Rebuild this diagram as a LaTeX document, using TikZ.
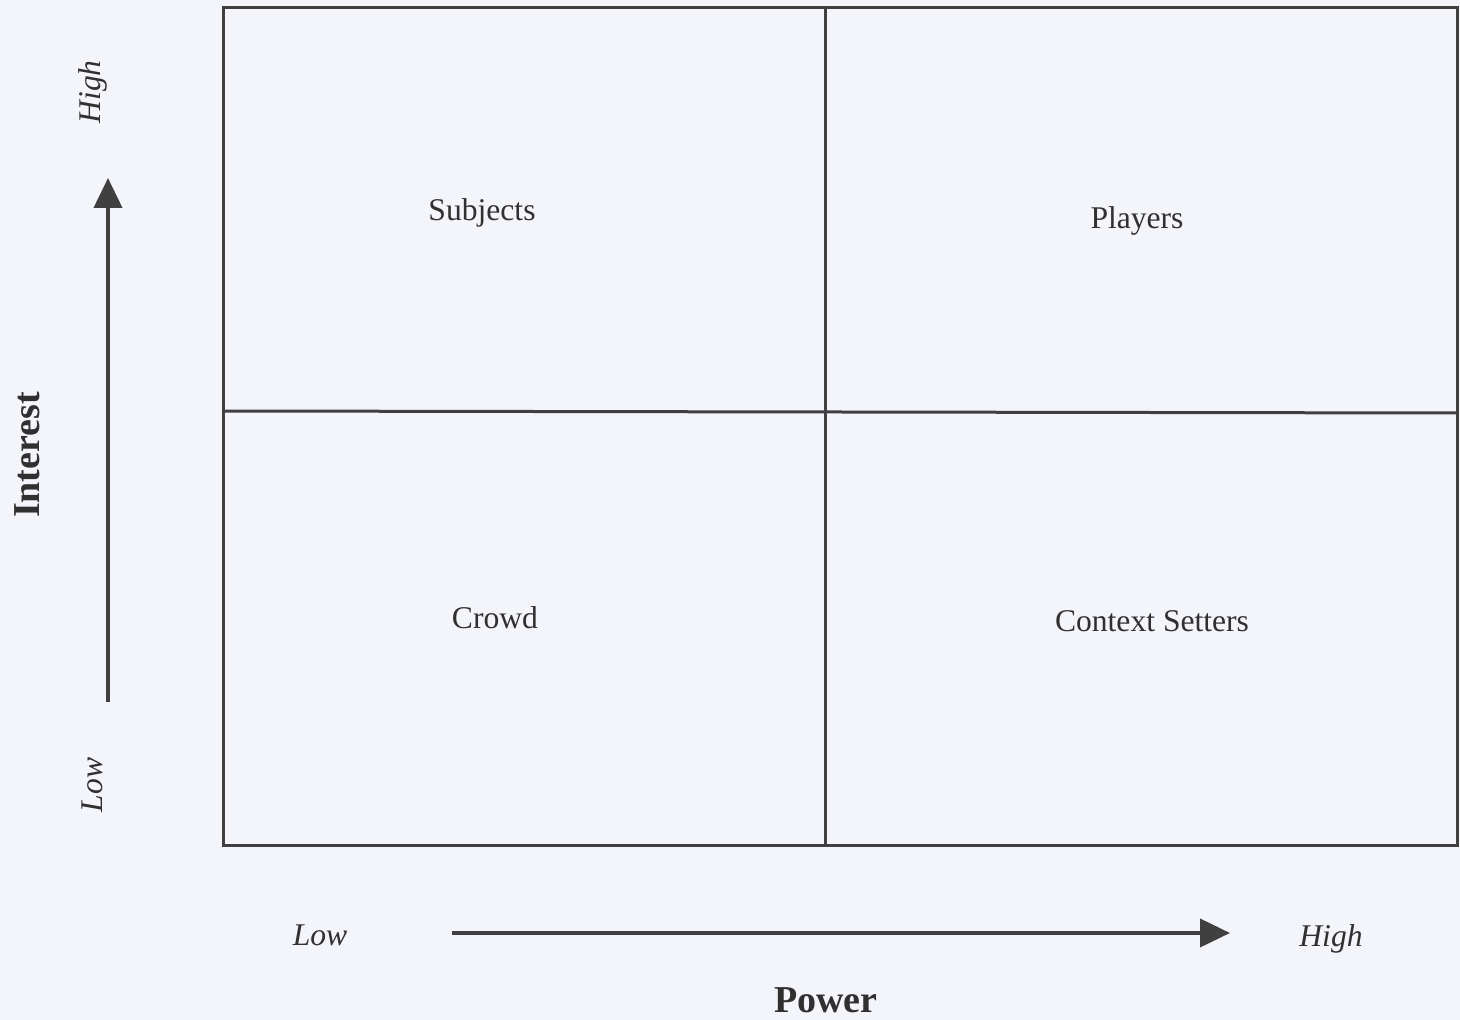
\documentclass[tikz,border=0pt]{standalone}
\usepackage{fontspec}
\setmainfont{Liberation Serif}
\usetikzlibrary{arrows.meta}
\definecolor{bg}{HTML}{F4F5FA}
\definecolor{ln}{HTML}{404040}
\definecolor{tx}{HTML}{303030}
\begin{document}
\begin{tikzpicture}[x=0.5pt,y=-0.5pt,
  frame/.style={draw=ln,line width=1.5pt},
  quad/.style={text=tx,font=\fontsize{15.8}{18}\selectfont},
  axlab/.style={text=tx,font=\fontsize{15.8}{18}\selectfont\itshape},
  axtitle/.style={text=tx,font=\fontsize{19}{22}\selectfont\bfseries},
  axarrow/.style={draw=ln,line width=2pt,-{Triangle[length=15pt,width=14pt]}}]
\fill[bg] (0,0) rectangle (1460,1020);
\useasboundingbox (0,0) rectangle (1460,1020);
% frame and dividers
\coordinate (tl) at (223,8);
\coordinate (br) at (1457,845);
\coordinate (mt) at (825,8);
\coordinate (mb) at (825,845);
\coordinate (ml) at (223,411);
\coordinate (mr) at (1457,413);
\draw[frame] (tl) rectangle (br);
\draw[frame] (mt) -- (mb);
\draw[frame] (ml) -- (mr);
% quadrant labels
\node[quad] (subjects) at (482,213) {Subjects};
\node[quad] (players) at (1137,221) {Players};
\node[quad] (crowd) at (495,618) {Crowd};
\node[quad] (context) at (1152,621) {Context Setters};
% vertical axis
\coordinate (vs) at (108,702);
\coordinate (ve) at (108,178);
\draw[axarrow] (vs) -- (ve);
\node[axlab,rotate=90] (vhigh) at (93,92) {High};
\node[axlab,rotate=90] (vlow) at (92,785) {Low};
\node[axtitle,rotate=90] (interest) at (27,455) {Interest};
% horizontal axis
\coordinate (hs) at (452,933);
\coordinate (he) at (1230,933);
\draw[axarrow] (hs) -- (he);
\node[axlab] (hlow) at (320,935) {Low};
\node[axlab] (hhigh) at (1331,939) {High};
\node[axtitle] (power) at (826,1000) {Power};
\end{tikzpicture}
\end{document}
